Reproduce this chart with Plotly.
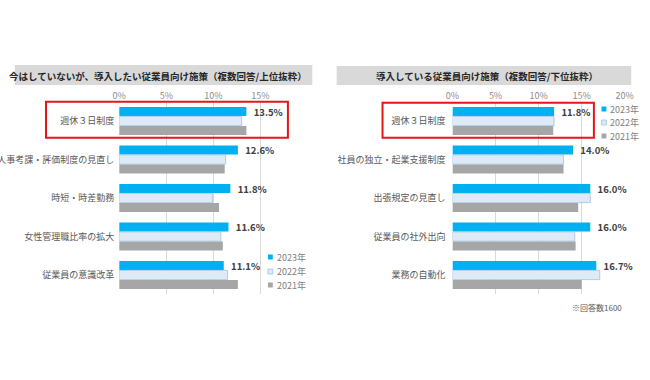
import plotly.graph_objects as go

W, H = 650, 380

years = ["2023年", "2022年", "2021年"]
colors = ["#00b0f0", "#deebf7", "#a6a6a6"]
line_colors = ["#00b0f0", "#9dc3e6", "#a6a6a6"]

left_title = "今はしていないが、導入したい従業員向け施策（複数回答/上位抜粋）"
left_cats = ["週休３日制度", "人事考課・評価制度の見直し", "時短・時差勤務", "女性管理職比率の拡大", "従業員の意識改革"]
left_2023 = [13.5, 12.6, 11.8, 11.6, 11.1]
left_2022 = [13.0, 11.3, 9.9, 10.8, 11.5]
left_2021 = [13.5, 11.2, 10.6, 11.0, 12.6]

right_title = "導入している従業員向け施策（複数回答/下位抜粋）"
right_cats = ["週休３日制度", "社員の独立・起業支援制度", "出張規定の見直し", "従業員の社外出向", "業務の自動化"]
right_2023 = [11.8, 14.0, 16.0, 16.0, 16.7]
right_2022 = [11.8, 12.9, 16.0, 14.2, 17.1]
right_2021 = [11.7, 12.9, 14.6, 14.3, 15.0]

left_ticks = [0, 5, 10, 15]
right_ticks = [0, 5, 10, 15, 20]
footnote = "※回答数1600"

FONT = "Noto Sans CJK JP"

def px(x):
    return x / W

def py(y):
    return 1 - y / H

fig = go.Figure()

left_series = [left_2023, left_2022, left_2021]
right_series = [right_2023, right_2022, right_2021]

def add_bars(series, cats, xa, ya):
    for i, (yr, vals) in enumerate(zip(years, series)):
        fig.add_trace(go.Bar(
            x=vals, y=cats, orientation="h", name=yr,
            marker=dict(color=colors[i], line=dict(color=line_colors[i], width=0.8 if i == 1 else 0)),
            text=[f"  {v:.1f}%" for v in vals] if i == 0 else None,
            textposition="outside" if i == 0 else "none",
            constraintext="none",
            textfont=dict(family=FONT, size=9.5, color="#404040", weight="bold"),
            cliponaxis=False,
            xaxis=xa, yaxis=ya, showlegend=False,
            hoverinfo="x+y+name",
        ))

add_bars(left_series, left_cats, "x", "y")
add_bars(right_series, right_cats, "x2", "y2")

y_dom = [py(294.25), py(101.75)]

axis_common = dict(
    side="top", showgrid=True, gridcolor="#d9d9d9", gridwidth=1, zeroline=False,
    ticks="", tickfont=dict(family=FONT, size=9, color="#8c8c8c"),
    showline=False, fixedrange=True,
)
yaxis_common = dict(
    autorange="reversed", showgrid=False, zeroline=False, ticks="", showline=False,
    tickfont=dict(family=FONT, size=9, color="#595959"), automargin=False, fixedrange=True,
)

fig.update_layout(
    width=W, height=H,
    margin=dict(l=0, r=0, t=0, b=0),
    paper_bgcolor="white", plot_bgcolor="white",
    barmode="group", bargap=0.26, bargroupgap=0.03,
    font=dict(family=FONT, color="#595959"),
    xaxis=dict(domain=[px(115), px(308.2)], range=[0, 20], tickvals=left_ticks,
               ticktext=[f"{t}%" for t in left_ticks], anchor="y", **axis_common),
    yaxis=dict(domain=y_dom, anchor="x", ticklabelstandoff=4, **yaxis_common),
    xaxis2=dict(domain=[px(456.7), px(633.3)], range=[0, 20], tickvals=right_ticks,
                ticktext=[f"{t}%" for t in right_ticks], anchor="y2", **axis_common),
    yaxis2=dict(domain=y_dom, anchor="x2", ticklabelstandoff=6, **yaxis_common),
    showlegend=False,
)

# title bars
fig.add_shape(type="rect", xref="paper", yref="paper", x0=px(8), x1=px(313), y0=py(85), y1=py(65),
              fillcolor="#d9d9d9", line=dict(width=0), layer="below")
fig.add_shape(type="rect", xref="paper", yref="paper", x0=px(338), x1=px(640), y0=py(85), y1=py(66),
              fillcolor="#d9d9d9", line=dict(width=0), layer="below")
fig.add_annotation(text=f"<b>{left_title}</b>", xref="paper", yref="paper", x=px(155), y=py(75.5),
                   xanchor="center", yanchor="middle",
                   showarrow=False, font=dict(family=FONT, size=9.5, color="#262626"))
fig.add_annotation(text=f"<b>{right_title}</b>", xref="paper", yref="paper", x=px(492), y=py(75.5),
                   xanchor="center", yanchor="middle",
                   showarrow=False, font=dict(family=FONT, size=9.5, color="#262626"))

# red highlight boxes
fig.add_shape(type="rect", xref="paper", yref="paper", x0=px(40), x1=px(288), y0=py(137.7), y1=py(101.7),
              line=dict(color="#e8141c", width=2), fillcolor="rgba(0,0,0,0)")
fig.add_shape(type="rect", xref="paper", yref="paper", x0=px(385), x1=px(601.7), y0=py(137.7), y1=py(102.7),
              line=dict(color="#e8141c", width=2), fillcolor="rgba(0,0,0,0)")

# legends (compact, Excel-style)
def add_legend(x_sq, y_rows):
    for i, yr in enumerate(years):
        yc = y_rows[i]
        fig.add_shape(type="rect", xref="paper", yref="paper",
                      x0=px(x_sq), x1=px(x_sq + 5), y0=py(yc + 2.5), y1=py(yc - 2.5),
                      fillcolor=colors[i], line=dict(color=line_colors[i], width=0.8 if i == 1 else 0))
        fig.add_annotation(text=yr, xref="paper", yref="paper", x=px(x_sq + 7), y=py(yc),
                           xanchor="left", yanchor="middle", showarrow=False,
                           font=dict(family=FONT, size=9, color="#7f7f7f"))

add_legend(267.5, [257, 271.5, 285])
add_legend(609.5, [109, 122.5, 136])

fig.add_annotation(text=footnote, xref="paper", yref="paper", x=px(577), y=py(307), xanchor="left",
                   yanchor="middle", showarrow=False, font=dict(family=FONT, size=8, color="#595959"))

fig.write_html("out.html", config={"displayModeBar": False},
               post_script="document.body.style.margin='0';")
